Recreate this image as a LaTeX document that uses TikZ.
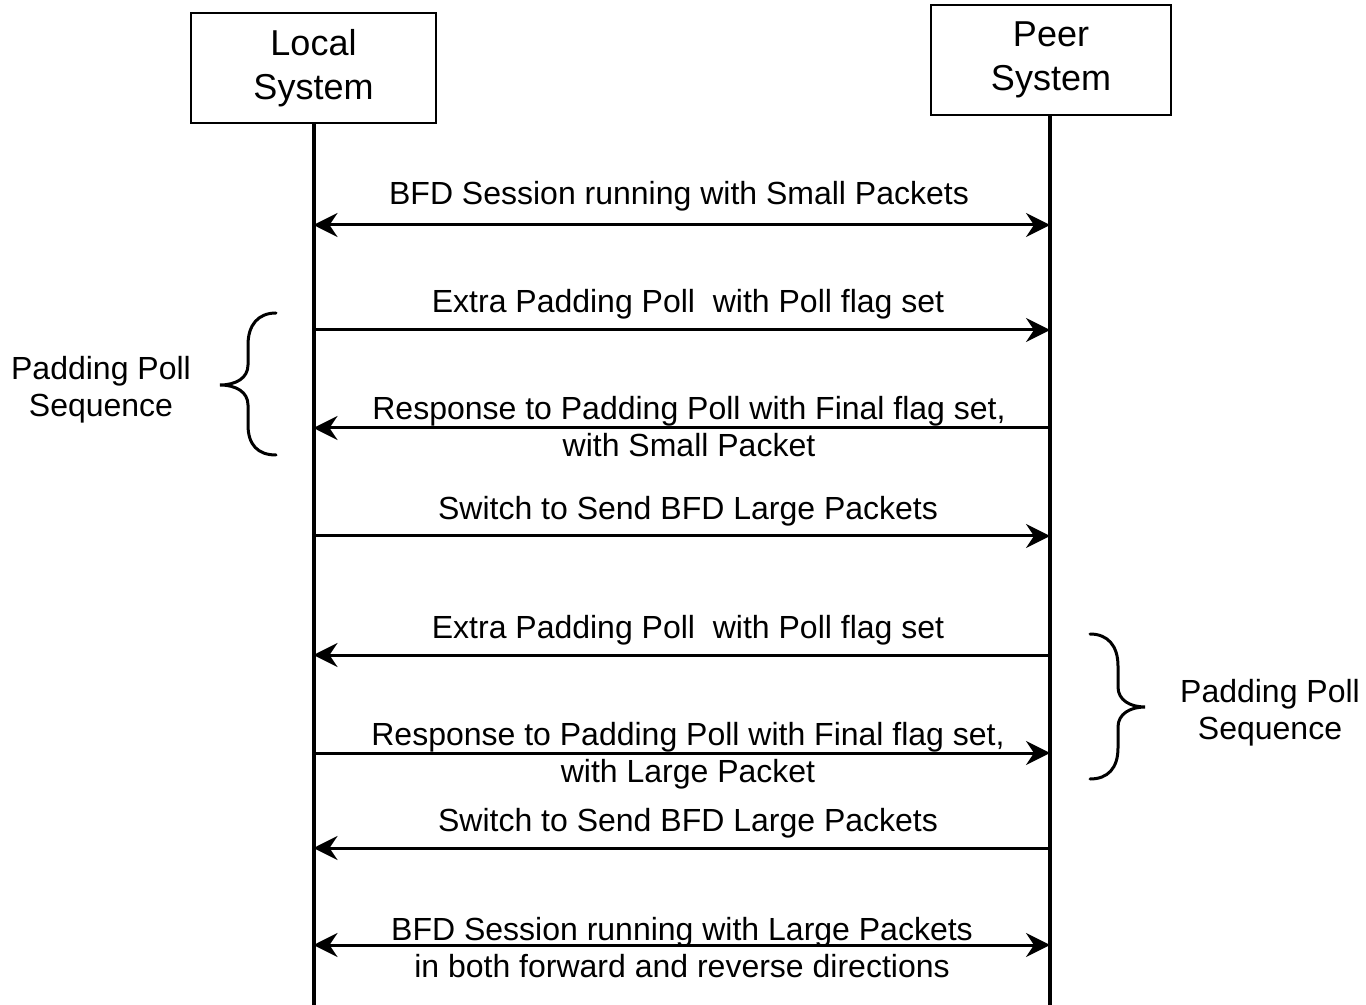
\documentclass[tikz,border=0pt]{standalone}
\usepackage{fontspec}
\setmainfont{Liberation Sans}
\usetikzlibrary{arrows.meta, positioning}

\begin{document}
\begin{tikzpicture}[x=0.5pt, y=-0.5pt,
    sysbox/.style={draw, line width=1pt, minimum height=55pt, align=center, font=\fontsize{18}{22}\selectfont},
    lifeline/.style={line width=2pt},
    msg/.style={line width=1.5pt, -{Stealth[length=12pt, width=12pt, inset=4pt]}},
    msgboth/.style={line width=1.5pt, {Stealth[length=12pt, width=12pt, inset=4pt]}-{Stealth[length=12pt, width=12pt, inset=4pt]}},
    lbl/.style={font=\fontsize{16}{18.5}\selectfont, align=center, inner sep=0pt},
    bracepath/.style={line width=1.5pt, line cap=round}]
    \useasboundingbox (0,0) rectangle (1366,1005);

    % systems
    \node[sysbox, minimum width=122.5pt] (local) at (313.5,68) {Local\\System};
    \node[sysbox, minimum width=120pt] (peer) at (1051,60) {Peer\\System};

    % lifelines
    \coordinate (lbot) at (313.5,1005);
    \coordinate (pbot) at (1050,1005);
    \draw[lifeline] (local.south) -- (lbot);
    \draw[lifeline] (peer.south -| pbot) -- (pbot);

    % message end points
    \coordinate (l1) at (313.5,225); \coordinate (p1) at (1050,225);
    \coordinate (l2) at (313.5,330); \coordinate (p2) at (1050,330);
    \coordinate (l3) at (313.5,428); \coordinate (p3) at (1050,428);
    \coordinate (l4) at (313.5,536); \coordinate (p4) at (1050,536);
    \coordinate (l5) at (313.5,655); \coordinate (p5) at (1050,655);
    \coordinate (l6) at (313.5,753); \coordinate (p6) at (1050,753);
    \coordinate (l7) at (313.5,848); \coordinate (p7) at (1050,848);
    \coordinate (l8) at (313.5,945); \coordinate (p8) at (1050,945);

    % messages
    \draw[msgboth] (l1) -- (p1);
    \node[lbl] (t1) at (679,196) {BFD Session running with Small Packets};

    \draw[msg] (l2) -- (p2);
    \node[lbl] (t2) at (688,304) {Extra Padding Poll\ \ with Poll flag set};

    \draw[msg] (p3) -- (l3);
    \node[lbl] (t3) at (689,427) {Response to Padding Poll with Final flag set,\\with Small Packet};

    \draw[msg] (l4) -- (p4);
    \node[lbl] (t4) at (688,511) {Switch to Send BFD Large Packets};

    \draw[msg] (p5) -- (l5);
    \node[lbl] (t5) at (688,630) {Extra Padding Poll\ \ with Poll flag set};

    \draw[msg] (l6) -- (p6);
    \node[lbl] (t6) at (688,756) {Response to Padding Poll with Final flag set,\\with Large Packet};

    \draw[msg] (p7) -- (l7);
    \node[lbl] (t7) at (688,823) {Switch to Send BFD Large Packets};

    \draw[msgboth] (l8) -- (p8);
    \node[lbl] (t8) at (682,948) {BFD Session running with Large Packets\\in both forward and reverse directions};

    % braces
    \draw[bracepath] (276,313) .. controls (258,313) and (248,325) .. (248,345) -- (248,365)
        .. controls (248,378) and (236,385) .. (220,385)
        .. controls (236,385) and (248,392) .. (248,405) -- (248,425)
        .. controls (248,445) and (258,455) .. (276,455);
    \node[lbl] (seq1) at (101,390) {Padding Poll\\Sequence};

    \draw[bracepath] (1090,634) .. controls (1108,634) and (1118,646) .. (1118,666) -- (1118,687)
        .. controls (1118,700) and (1130,707) .. (1145,707)
        .. controls (1130,707) and (1118,714) .. (1118,727) -- (1118,748)
        .. controls (1118,768) and (1108,779) .. (1090,779);
    \node[lbl] (seq2) at (1270,713) {Padding Poll\\Sequence};
\end{tikzpicture}
\end{document}
